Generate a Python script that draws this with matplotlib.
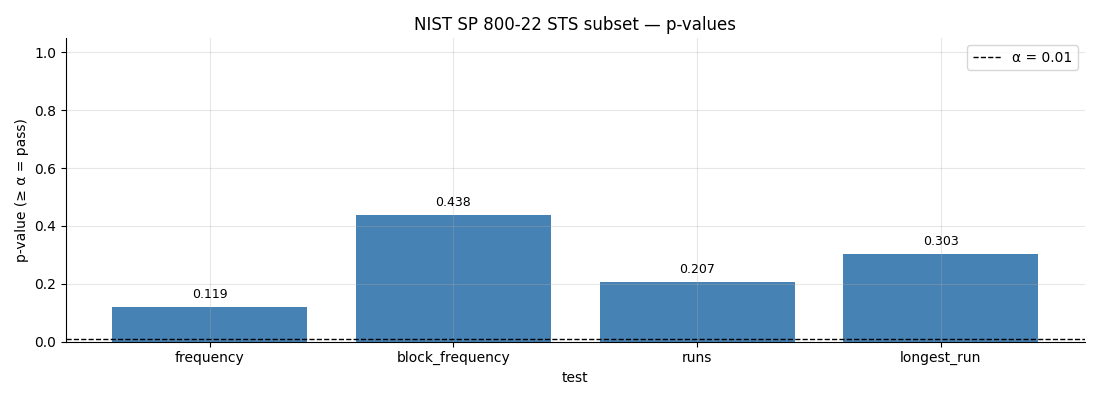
import matplotlib
matplotlib.use("Agg")
import matplotlib.pyplot as plt

tests = ["frequency", "block_frequency", "runs", "longest_run"]
pvalues = [0.119, 0.438, 0.207, 0.303]
alpha = 0.01

fig, ax = plt.subplots(figsize=(11, 4), dpi=100)
ax.bar(tests, pvalues, color="steelblue", width=0.8)
for i, v in enumerate(pvalues):
    ax.text(i, v + 0.02, f"{v:.3f}", ha="center", va="bottom", fontsize=9)
ax.axhline(alpha, color="black", linestyle="--", linewidth=1, label=f"α = {alpha}")
ax.set_ylim(0, 1.05)
ax.set_xlabel("test")
ax.set_ylabel("p-value (≥ α = pass)")
ax.set_title("NIST SP 800-22 STS subset — p-values")
ax.grid(True, alpha=0.3)
ax.spines["top"].set_visible(False)
ax.spines["right"].set_visible(False)
ax.legend(loc="upper right")
fig.subplots_adjust(left=0.06, right=0.986, top=0.905, bottom=0.146)
fig.savefig("out.png")
